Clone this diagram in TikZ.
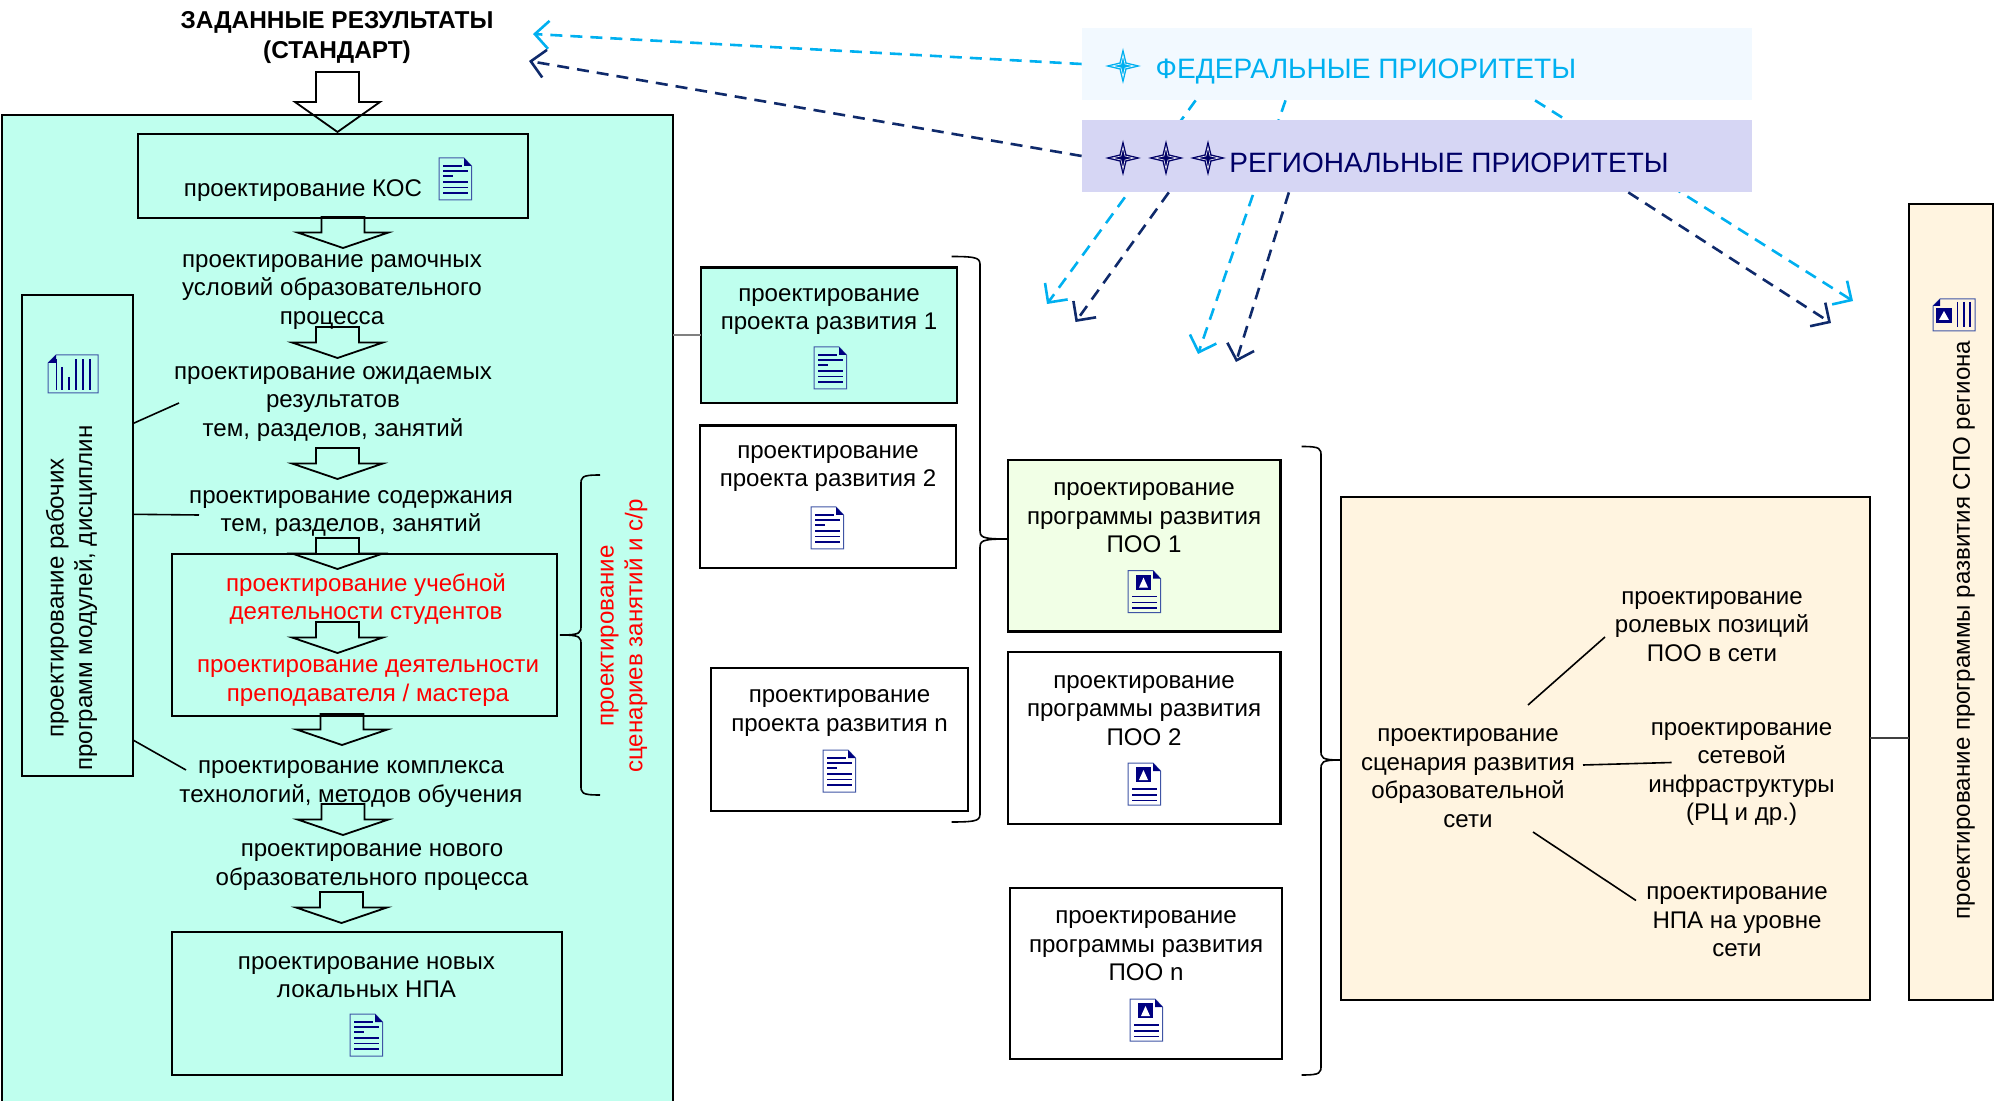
\documentclass[tikz,border=0pt]{standalone}
\usepackage{fontspec}
\setmainfont{Liberation Sans}
\usetikzlibrary{arrows.meta,calc}

\definecolor{mint}{HTML}{BFFFEE}
\definecolor{cream}{HTML}{FFF4E0}
\definecolor{pale}{HTML}{F1FFE6}
\definecolor{fedfill}{HTML}{F2F9FF}
\definecolor{regfill}{HTML}{D6D6F4}
\definecolor{cyanline}{HTML}{00B0F0}
\definecolor{navyline}{HTML}{0F2A6B}
\definecolor{regtext}{HTML}{000066}
\definecolor{iconline}{HTML}{3F55A5}
\definecolor{iconbar}{HTML}{000080}

% Curly bracket: start x, bar x, tip x, top y, tip y, bottom y
\newcommand{\bigbrace}[6]{
    \draw[bracket] (#1,#4) .. controls (#2,#4) and (#2,#4+2) .. (#2,#4+10)
        -- (#2,#5-10) .. controls (#2,#5-2) and (#2,#5) .. (#3,#5)
        .. controls (#2,#5) and (#2,#5+2) .. (#2,#5+10)
        -- (#2,#6-10) .. controls (#2,#6-2) and (#2,#6) .. (#1,#6);
}

\tikzset{
    box/.style={draw,line width=1.1pt,inner sep=0pt,outer sep=0pt},
    rect/.style n args={2}{minimum width=#1*0.5pt,minimum height=#2*0.5pt},
    lbl/.style={align=center,inner sep=0pt,yshift=-2pt,font=\fontsize{12.05}{14.3}\selectfont},
    redlbl/.style={lbl,text=red},
    link/.style={line width=0.8pt},
    bracket/.style={line width=0.8pt},
    blockarrow/.style={line width=0.9pt},
    fedarrow/.style={cyanline,line width=1.3pt,dash pattern=on 6pt off 4pt,-{Straight Barb[length=7pt,width=14pt,line width=1.3pt]}},
    regarrow/.style={navyline,line width=1.3pt,dash pattern=on 6pt off 4pt,-{Straight Barb[length=7pt,width=14pt,line width=1.3pt]}},
    textdoc/.pic={
        \draw[iconline,line width=0.5pt] (0,0) -- (25,0) -- (32.5,8) -- (32.5,42) -- (0,42) -- cycle;
        \fill[iconbar] (25,0) -- (32.5,8) -- (25,8) -- cycle;
        \foreach \ly/\lx in {8/23,13/29,18/14,24/29,29.5/29,35/29}{
            \draw[iconbar,line width=0.7pt] (4,\ly) -- (\lx,\ly);
        }
    },
    imgdoc/.pic={
        \draw[iconline,line width=0.5pt] (0,0) -- (25,0) -- (32.5,8) -- (32.5,42) -- (0,42) -- cycle;
        \fill[iconbar] (25,0) -- (32.5,8) -- (25,8) -- cycle;
        \fill[iconbar] (8,4) rectangle (23,19);
        \fill[white] (11,17) -- (15.5,7) -- (20,17) -- cycle;
        \foreach \ly in {26,32,37.5}{
            \draw[iconbar,line width=0.6pt] (4,\ly) -- (29,\ly);
        }
    },
    bardoc/.pic={
        \draw[iconline,line width=0.5pt] (8,0) -- (50,0) -- (50,38) -- (0,38) -- (0,8) -- cycle;
        \fill[iconbar] (8,0) -- (8,8) -- (0,8) -- cycle;
        \foreach \lx/\ly in {8.5/4.5,14/12,21/22,28/4.5,35/4.5,42/4.5}{
            \draw[iconbar,line width=0.9pt] (\lx,\ly) -- (\lx,35);
        }
    },
    landdoc/.pic={
        \draw[iconline,line width=0.5pt] (7,0) -- (42,0) -- (42,32) -- (0,32) -- (0,7) -- cycle;
        \fill[iconbar] (7,0) -- (7,7) -- (0,7) -- cycle;
        \fill[iconbar] (3,9) rectangle (19,24);
        \fill[white] (6,21) -- (11,12) -- (16,21) -- cycle;
        \foreach \lx in {24.5,31,37}{
            \draw[iconbar,line width=0.8pt] (\lx,3) -- (\lx,28);
        }
    }
}

\begin{document}
\begin{tikzpicture}[x=0.5pt,y=-0.5pt]
    \useasboundingbox (0,0) rectangle (1999,1101);

    % Left panel and its boxes
    \node[box,fill=mint,rect={671}{990}] (panel) at (337.5,610) {};
    \node[box,rect={390}{84}] (kosbox) at (333,176) {};
    \node[box,rect={111}{481}] (sidebar) at (77.5,535.3) {};
    \node[box,rect={385}{162}] (redbox) at (364.5,635) {};
    \node[box,rect={390}{143}] (npabox) at (366.8,1003.3) {};

    % Title and its arrow
    \node[lbl,font=\fontsize{12.2}{15}\selectfont\bfseries] (title) at (337,34) {ЗАДАННЫЕ РЕЗУЛЬТАТЫ\\(СТАНДАРТ)};
    \draw[blockarrow] (316,72) -- (359,72) -- (359,102) -- (380,102) -- (337.5,132) -- (295,102) -- (316,102) -- cycle;

    % Small block arrows
    \foreach \cx/\ay in {343/217,337.5/327,337.5/448,337.5/538,337.5/622,342/714,343/804,341.5/892}{
        \draw[blockarrow] (\cx-21.5,\ay) -- (\cx+21.5,\ay) -- (\cx+21.5,\ay+15.5) -- (\cx+45.5,\ay+15.5)
            -- (\cx,\ay+31) -- (\cx-45.5,\ay+15.5) -- (\cx-21.5,\ay+15.5) -- cycle;
    }

    % Steps in the left panel
    \node[lbl] (kos) at (303,187) {проектирование КОС};
    \node[lbl] (frame) at (332,288) {проектирование рамочных\\условий образовательного\\процесса};
    \node[lbl] (expect) at (333,400) {проектирование ожидаемых\\результатов\\тем, разделов, занятий};
    \node[lbl] (content) at (351,509.5) {проектирование содержания\\тем, разделов, занятий};
    \node[redlbl] (study) at (366,595) {проектирование учебной\\деятельности студентов};
    \node[redlbl] (teach) at (368,679) {проектирование деятельности\\преподавателя / мастера};
    \node[lbl] (tech) at (351,780) {проектирование комплекса\\технологий, методов обучения};
    \node[lbl] (process) at (372,863) {проектирование нового\\образовательного процесса};
    \node[lbl] (npa) at (366.5,973) {проектирование новых\\локальных НПА};
    \node[lbl,rotate=90] (work) at (71.5,594) {проектирование рабочих\\программ модулей, дисциплин};
    \node[redlbl,rotate=90] (scene) at (624,632) {проектирование\\сценариев занятий и с/р};

    % Links from the sidebar
    \draw[link] ([shift={(56,-112)}]sidebar.center) -- ([shift={(-154,-1)}]expect.center);
    \draw[link] ([shift={(56,-21)}]sidebar.center) -- ([shift={(-152,1.5)}]content.center);
    \draw[link] ([shift={(56,205)}]sidebar.center) -- ([shift={(-165,-14)}]tech.center);
    \bigbrace{600}{581}{560}{475}{635}{795}

    % Projects
    \node[box,fill=mint,rect={256}{135.5}] (p1box) at (829,335.25) {};
    \node[box,rect={256}{142.4}] (p2box) at (828,496.8) {};
    \node[box,rect={256.6}{142.6}] (pnbox) at (839.3,739.3) {};
    \node[lbl] (p1) at (829,307.5) {проектирование\\проекта развития 1};
    \node[lbl] (p2) at (828,464.7) {проектирование\\проекта развития 2};
    \node[lbl] (pn) at (839.5,709) {проектирование\\проекта развития n};
    \draw[line width=1pt,gray] (p1box.west -| panel.east) -- (p1box.west);
    \bigbrace{951.5}{980}{1008}{256.5}{539}{822}

    % Programmes
    \node[box,fill=pale,rect={272.5}{171.5}] (po1box) at (1144.25,545.75) {};
    \node[box,rect={272.5}{171.3}] (po2box) at (1144.25,738) {};
    \node[box,rect={272}{171}] (ponbox) at (1146,973.5) {};
    \node[lbl] (po1) at (1144,514) {проектирование\\программы развития\\ПОО 1};
    \node[lbl] (po2) at (1144,706.5) {проектирование\\программы развития\\ПОО 2};
    \node[lbl] (pon) at (1146,942) {проектирование\\программы развития\\ПОО n};
    \bigbrace{1301.5}{1321}{1341}{446.5}{760}{1075}

    % Network scenario
    \node[box,fill=cream,rect={528.6}{503}] (netbox) at (1605.3,748.5) {};
    \node[box,fill=cream,rect={84}{796}] (regbar) at (1951,602) {};
    \node[lbl] (scen) at (1468,774) {проектирование\\сценария развития\\образовательной\\сети};
    \node[lbl] (role) at (1712,622.5) {проектирование\\ролевых позиций\\ПОО в сети};
    \node[lbl] (net) at (1741.6,770) {проектирование\\сетевой\\инфраструктуры\\(РЦ и др.)};
    \node[lbl] (netnpa) at (1737,918) {проектирование\\НПА на уровне\\сети};
    \node[lbl,rotate=90] (regprog) at (1964,626) {проектирование программы развития СПО региона};
    \draw[link] ([shift={(60,-73)}]scen.center) -- ([shift={(-107,10.5)}]role.center);
    \draw[link] ([shift={(115,-13)}]scen.center) -- ([shift={(-70,-11.5)}]net.center);
    \draw[link] ([shift={(65,54)}]scen.center) -- ([shift={(-101,-21.5)}]netnpa.center);
    \draw[line width=0.6pt,darkgray] (netbox.east |- 0,738) -- (regbar.west |- 0,738);

    % Document icons
    \foreach \ix/\iy in {439/158,350/1014,814/347,811/507,823/750}{
        \pic at (\ix,\iy) {textdoc};
    }
    \foreach \ix/\iy in {1128/570.6,1128/763,1130/999}{
        \pic at (\ix,\iy) {imgdoc};
    }
    \pic at (48,355) {bardoc};
    \pic at (1933,299) {landdoc};

    % Free ends of the dashed arrows
    \foreach \name/\px/\py in {tfed/533/34,treg/529/61,fa/1047/304,fb/1198/354,fc/1853/301,ra/1075.5/322,rb/1236/362,rc/1831/323}{
        \coordinate (\name) at (\px,\py);
    }

    % Federal priorities (its arrows run under the regional box)
    \node[fill=fedfill,rect={670}{72},inner sep=0pt] (fed) at (1417,64) {};
    \node[font=\fontsize{14.05}{16}\selectfont,text=cyanline,inner sep=0pt] (fedtext) at (1366,71.5) {ФЕДЕРАЛЬНЫЕ ПРИОРИТЕТЫ};
    \draw[fedarrow] (fed.west) -- (tfed);
    \draw[fedarrow] ($(fed.south west)!0.17!(fed.south east)$) -- (fa);
    \draw[fedarrow] ($(fed.south west)!0.304!(fed.south east)$) -- (fb);
    \draw[fedarrow] ($(fed.south west)!0.676!(fed.south east)$) -- (fc);

    % Regional priorities
    \node[fill=regfill,rect={670}{72},inner sep=0pt] (reg) at (1417,156) {};
    \node[font=\fontsize{14}{16}\selectfont,text=regtext,inner sep=0pt] (regtxt) at (1449,162.5) {РЕГИОНАЛЬНЫЕ ПРИОРИТЕТЫ};
    \draw[regarrow] (reg.west) -- (treg);
    \draw[regarrow] ($(reg.south west)!0.13!(reg.south east)$) -- (ra);
    \draw[regarrow] ($(reg.south west)!0.309!(reg.south east)$) -- (rb);
    \draw[regarrow] ($(reg.south west)!0.815!(reg.south east)$) -- (rc);

    % Stars
    \foreach \sx/\sy/\scol in {1123/66/cyanline,1123/158/regtext,1166/158/regtext,1208/158/regtext}{
        \fill[\scol] (\sx,\sy-18) -- (\sx+3.5,\sy-3.5) -- (\sx+18,\sy) -- (\sx+3.5,\sy+3.5)
            -- (\sx,\sy+18) -- (\sx-3.5,\sy+3.5) -- (\sx-18,\sy) -- (\sx-3.5,\sy-3.5) -- cycle;
        \draw[white,line width=0.3pt] (\sx,\sy-11) -- (\sx+2,\sy-2) -- (\sx+11,\sy) -- (\sx+2,\sy+2)
            -- (\sx,\sy+11) -- (\sx-2,\sy+2) -- (\sx-11,\sy) -- (\sx-2,\sy-2) -- cycle;
    }
\end{tikzpicture}
\end{document}
